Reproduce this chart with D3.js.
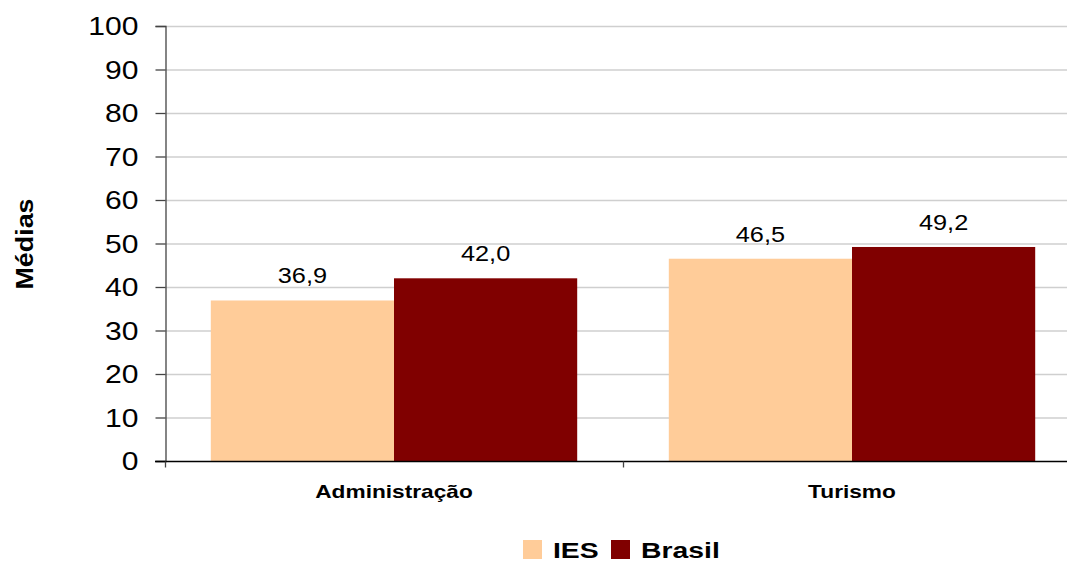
<!DOCTYPE html>
<html>
<head>
<meta charset="utf-8">
<script src="https://cdn.jsdelivr.net/npm/d3@7"></script>
<style>
  html, body { margin: 0; padding: 0; background: #fff; }
  svg { display: block; font-family: "Liberation Sans", Arial, sans-serif; }
</style>
</head>
<body>
<svg id="chart" width="1067" height="561"></svg>
<script>
const categories = ["Administração", "Turismo"];
const seriesNames = ["IES", "Brasil"];
const iesValues = [36.9, 46.5];
const brasilValues = [42.0, 49.2];
const yTicks = [0, 10, 20, 30, 40, 50, 60, 70, 80, 90, 100];
const colors = ["#FFCC99", "#800000"];

const svg = d3.select("#chart");
const plotLeft = 165, plotRight = 1081, plotTop = 26, plotBottom = 461;

const x0 = d3.scaleBand().domain(categories).range([plotLeft, plotRight]).paddingInner(0).paddingOuter(0);
const bw = x0.bandwidth();
const x1 = d3.scaleBand().domain(seriesNames).range([bw * 0.1, bw * 0.9]).padding(0);
const y = d3.scaleLinear().domain([0, 100]).range([plotBottom, plotTop]);

const values = [iesValues, brasilValues];
const data = [];
categories.forEach((c, i) => {
  seriesNames.forEach((s, j) => {
    data.push({ cat: c, series: s, value: values[j][i], color: colors[j] });
  });
});

// gridlines
svg.append("g").selectAll("line").data(yTicks.filter(t => t > 0)).join("line")
  .attr("x1", plotLeft).attr("x2", plotRight)
  .attr("y1", d => y(d) + 0.5).attr("y2", d => y(d) + 0.5)
  .attr("stroke", "#cfcfcf").attr("stroke-width", 1.3);

// bars
svg.append("g").selectAll("rect").data(data).join("rect")
  .attr("x", d => x0(d.cat) + x1(d.series))
  .attr("width", x1.bandwidth())
  .attr("y", d => y(d.value))
  .attr("height", d => y(0) - y(d.value))
  .attr("fill", d => d.color);

// value labels
const fmt = v => d3.format(".1f")(v).replace(".", ",");
svg.append("g").selectAll("text").data(data).join("text")
  .attr("transform", d => `translate(${x0(d.cat) + x1(d.series) + x1.bandwidth() / 2},${y(d.value) - 17}) scale(1.15,1)`)
  .attr("text-anchor", "middle")
  .attr("font-size", 22)
  .attr("fill", "#000")
  .text(d => fmt(d.value));

// y axis
const yAxis = d3.axisLeft(y).tickValues(yTicks).tickSize(10).tickFormat(d3.format("d"));
const gy = svg.append("g").attr("transform", `translate(${plotLeft + 0.5},0)`).call(yAxis);
gy.select(".domain").attr("stroke", "#444").attr("stroke-width", 1.3);
gy.selectAll(".tick line").attr("stroke", "#444").attr("stroke-width", 1.3);
gy.selectAll(".tick text")
  .attr("x", null).attr("dy", null)
  .attr("font-size", 25.5)
  .attr("fill", "#000")
  .attr("font-family", "Liberation Sans, Arial, sans-serif")
  .attr("text-anchor", "end")
  .attr("dominant-baseline", "central")
  .attr("transform", "translate(-27,0) scale(1.18,1)");

// x axis
const gx = svg.append("g").attr("transform", `translate(0,${plotBottom + 0.5})`);
gx.append("line").attr("x1", plotLeft - 10).attr("x2", plotRight).attr("y1", 0).attr("y2", 0)
  .attr("stroke", "#000").attr("stroke-width", 1.5);
const bounds = categories.map(c => x0(c)).concat([plotRight]);
gx.selectAll("line.tk").data(bounds).join("line").attr("class", "tk")
  .attr("x1", d => d + 0.5).attr("x2", d => d + 0.5).attr("y1", 0).attr("y2", 6)
  .attr("stroke", "#444").attr("stroke-width", 1.3);
gx.selectAll("text").data(categories).join("text")
  .attr("transform", d => `translate(${x0(d) + bw / 2},${497 - plotBottom}) scale(1.26,1)`)
  .attr("text-anchor", "middle")
  .attr("font-size", 18)
  .attr("font-weight", "bold")
  .attr("fill", "#000")
  .text(d => d);

// y label
svg.append("text")
  .attr("transform", "translate(33,244) rotate(-90) scale(1.12,1)")
  .attr("text-anchor", "middle")
  .attr("font-size", 24)
  .attr("font-weight", "bold")
  .attr("fill", "#000")
  .text("Médias");

// legend
const legendX = [523, 611];
const lg = svg.append("g").selectAll("g").data(seriesNames).join("g")
  .attr("transform", (d, i) => `translate(${legendX[i]},540)`);
lg.append("rect").attr("width", 19).attr("height", 19).attr("fill", (d, i) => colors[i]);
lg.append("text")
  .attr("transform", "translate(30,18) scale(1.26,1)")
  .attr("font-size", 22.5)
  .attr("font-weight", "bold")
  .attr("fill", "#000")
  .text(d => d);
</script>
</body>
</html>
